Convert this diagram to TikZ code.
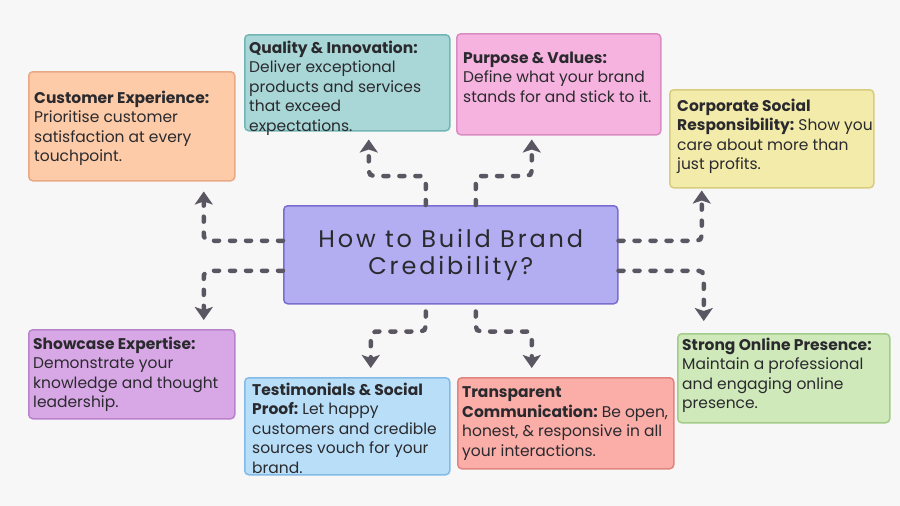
\documentclass[tikz,border=0pt]{standalone}
\usepackage{fontspec}
\setmainfont{Poppins}
\newfontfamily\titlefont[LetterSpace=12]{Poppins}
\usetikzlibrary{arrows.meta}
\frenchspacing
\definecolor{bgc}{HTML}{F7F7F7}
\definecolor{txc}{HTML}{2A2A2E}
\definecolor{arc}{HTML}{5B5762}
\definecolor{ceF}{HTML}{FDCBA8}\definecolor{ceD}{HTML}{E9A985}
\definecolor{qiF}{HTML}{A9D6D6}\definecolor{qiD}{HTML}{72B5B5}
\definecolor{pvF}{HTML}{F6B3DF}\definecolor{pvD}{HTML}{D98CC2}
\definecolor{csF}{HTML}{F3EBA9}\definecolor{csD}{HTML}{D8CC7E}
\definecolor{shF}{HTML}{D8A8E6}\definecolor{shD}{HTML}{B882CC}
\definecolor{tsF}{HTML}{B9DEF8}\definecolor{tsD}{HTML}{82BBE8}
\definecolor{tcF}{HTML}{FBADA8}\definecolor{tcD}{HTML}{E08580}
\definecolor{soF}{HTML}{CFE9BA}\definecolor{soD}{HTML}{A2CC88}
\definecolor{ctF}{HTML}{B3AEF1}\definecolor{ctD}{HTML}{7B6DCF}
\tikzset{
  bx/.style={draw, rounded corners=4pt, line width=1.5pt, anchor=north west, inner sep=0pt},
  txt/.style={anchor=north west, inner sep=0pt, align=left, text=txc, font=\frenchspacing\fontsize{15.5}{19.5}\selectfont},
  arr/.style={draw=arc, line width=4.5pt, line cap=round, dash pattern=on 5pt off 11pt,
    rounded corners=5pt, -{Stealth[length=13pt, width=18pt, inset=3pt]}}
}
\begin{document}
\begin{tikzpicture}[x=1pt,y=-1pt]
\fill[bgc] (0,0) rectangle (900,506);
\useasboundingbox (0,0) rectangle (900,506);
% boxes
\node[bx, fill=ceF, draw=ceD, minimum width=206pt, minimum height=109pt] (ce) at (28,71) {};
\node[bx, fill=qiF, draw=qiD, minimum width=205pt, minimum height=96pt] (qi) at (244,34) {};
\node[bx, fill=pvF, draw=pvD, minimum width=204pt, minimum height=101pt] (pv) at (456,33) {};
\node[bx, fill=csF, draw=csD, minimum width=204pt, minimum height=98pt] (cs) at (669,89) {};
\node[bx, fill=shF, draw=shD, minimum width=206pt, minimum height=89pt] (sh) at (28,329) {};
\node[bx, fill=tsF, draw=tsD, minimum width=205pt, minimum height=97pt] (ts) at (244,377) {};
\node[bx, fill=tcF, draw=tcD, minimum width=216pt, minimum height=91pt] (tc) at (457,377) {};
\node[bx, fill=soF, draw=soD, minimum width=212pt, minimum height=89pt] (so) at (677,333) {};
\node[bx, fill=ctF, draw=ctD, minimum width=334pt, minimum height=98pt, align=center,
  text=txc, font=\titlefont\fontsize{24}{27}\selectfont] (ctr) at (283,205)
  {How to Build Brand\\Credibility?};
% texts (y = first baseline - 11.5)
\node[txt] (cet) at (34,90.5) {\textbf{Customer Experience:}\\Prioritise customer\\satisfaction at every\\touchpoint.};
\node[txt] (qit) at (249,40.5) {\textbf{Quality \& Innovation:}\\Deliver exceptional\\products and services\\that exceed\\expectations.};
\node[txt] (pvt) at (463,51.5) {\textbf{Purpose \& Values:}\\Define what your brand\\stands for and stick to it.};
\node[txt] (cst) at (677,98.5) {\textbf{Corporate Social}\\\textbf{Responsibility:} Show you\\care about more than\\just profits.};
\node[txt] (sht) at (33,336.5) {\textbf{Showcase Expertise:}\\Demonstrate your\\knowledge and thought\\leadership.};
\node[txt] (tst) at (252,382.5) {\textbf{Testimonials \& Social}\\\textbf{Proof:} Let happy\\customers and credible\\sources vouch for your\\brand.};
\node[txt] (tct) at (462,386.5) {\textbf{Transparent}\\\textbf{Communication:} Be open,\\honest, \& responsive in all\\your interactions.};
\node[txt] (sot) at (682,337.5) {\textbf{Strong Online Presence:}\\Maintain a professional\\and engaging online\\presence.};
% connectors
\draw[arr, shorten >=10pt] ([yshift=14pt]ctr.west) -| ([xshift=72pt]ce.south);
\draw[arr, shorten >=9pt] ([yshift=-16pt]ctr.west) -| ([xshift=72pt]sh.north);
\draw[arr, shorten >=2pt] ([yshift=14pt]ctr.east) -| ([xshift=-70pt]cs.south);
\draw[arr, shorten >=12pt] ([yshift=-16pt]ctr.east) -| ([xshift=-80pt]so.north);
\draw[arr, shorten >=8pt] ([xshift=-25pt]ctr.north) -- ++(0,-29) -| ([xshift=21.5pt]qi.south);
\draw[arr, shorten >=4pt] ([xshift=25pt]ctr.north) -- ++(0,-29) -| ([xshift=-27pt]pv.south);
\draw[arr, shorten >=9pt] ([xshift=-25pt,yshift=-7pt]ctr.south) -- ++(0,20) -| ([xshift=23.5pt]ts.north);
\draw[arr, shorten >=9pt] ([xshift=25pt,yshift=-7pt]ctr.south) -- ++(0,20) -| ([xshift=-34pt]tc.north);
\end{tikzpicture}
\end{document}
